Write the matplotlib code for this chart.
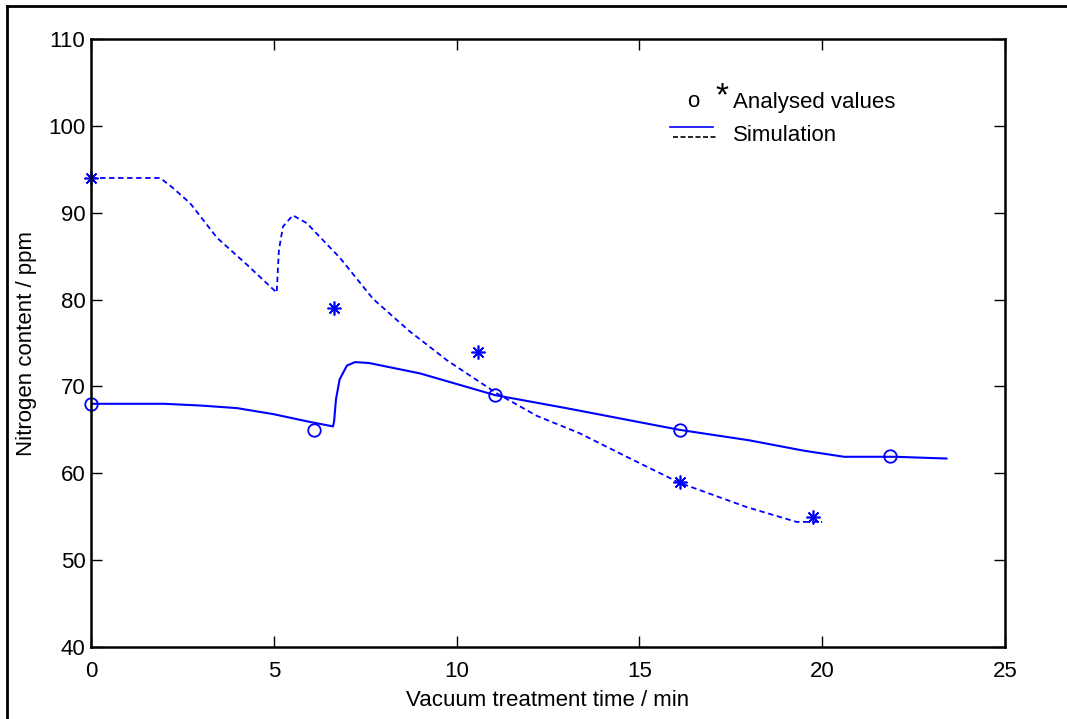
import numpy as np
import matplotlib
matplotlib.use("Agg")
import matplotlib.pyplot as plt
from matplotlib.lines import Line2D

plt.rcParams["font.family"] = ["Liberation Sans", "DejaVu Sans"]

# measured points
star_t = [0, 6.65, 10.58, 16.1, 19.75]
star_n = [94, 79, 74, 59, 55]
circ_t = [0, 6.1, 11.05, 16.1, 21.85]
circ_n = [68, 65, 69, 65, 62]

# simulation, solid line
sim_solid_t = [0, 2.0, 3.0, 4.0, 5.0, 6.0, 6.62, 6.65, 6.7, 6.8, 7.0, 7.22, 7.6,
               9.0, 11.05, 13.0, 16.1, 18.0, 19.5, 20.6, 22.0, 23.4]
sim_solid_n = [68, 68, 67.8, 67.5, 66.8, 65.9, 65.4, 66.0, 68.5, 70.8, 72.4, 72.8, 72.7,
               71.5, 69.0, 67.5, 65.0, 63.8, 62.6, 61.9, 61.9, 61.7]

# simulation, dashed line
sim_dash_t = [0, 1.89, 2.2, 2.71, 3.45, 4.27, 5.08, 5.1, 5.14, 5.25, 5.52, 5.9, 6.81,
              7.71, 8.7, 9.74, 11.1, 12.2, 13.37, 14.7, 16.1, 17.94, 19.3, 20.0]
sim_dash_n = [94, 94, 93.0, 91.1, 87.1, 84.0, 80.8, 82.5, 85.7, 88.4, 89.7, 88.8, 84.8,
              80.1, 76.4, 73.0, 69.2, 66.6, 64.6, 61.8, 58.9, 56.1, 54.4, 54.4]

blue = "#0000ff"
fs = 16

fig = plt.figure(figsize=(10.67, 7.19), dpi=100)
ax = fig.add_axes([91 / 1067, 1 - 647 / 719, (1005 - 91) / 1067, (647 - 39) / 719])

ax.plot(sim_solid_t, sim_solid_n, color=blue, lw=1.5)
ax.plot(sim_dash_t, sim_dash_n, color=blue, lw=1.3, ls=(0, (3, 2)))
ax.plot(star_t, star_n, ls="none", marker=(8, 2, 0), ms=10, mec=blue, mew=1.2, clip_on=False)
ax.plot(circ_t, circ_n, ls="none", marker="o", ms=9, mfc="none", mec=blue, mew=1.3, clip_on=False)

ax.set_xlim(0, 25)
ax.set_ylim(40, 110)
ax.set_xticks(range(0, 26, 5))
ax.set_yticks(range(40, 111, 10))
ax.tick_params(direction="in", length=8, width=1, labelsize=fs, top=True, right=True)
ax.tick_params(axis="x", pad=10)
ax.tick_params(axis="y", pad=4)
for s in ax.spines.values():
    s.set_linewidth(1.8)
ax.set_xlabel("Vacuum treatment time / min", fontsize=fs, labelpad=6)
ax.set_ylabel("Nitrogen content / ppm", fontsize=fs, labelpad=8)

# legend drawn by hand
ax.text(0.659, 0.897, "o", transform=ax.transAxes, fontsize=fs, va="center", ha="center")
ax.text(0.690, 0.905, "*", transform=ax.transAxes, fontsize=24, va="center", ha="center")
ax.text(0.702, 0.896, "Analysed values", transform=ax.transAxes, fontsize=fs, va="center")
ax.plot([0.633, 0.681], [0.855, 0.855], transform=ax.transAxes, color=blue, lw=1.2)
ax.plot([0.637, 0.685], [0.839, 0.839], transform=ax.transAxes, color="black", lw=1.2, ls=(0, (3, 1.5)))
ax.text(0.702, 0.842, "Simulation", transform=ax.transAxes, fontsize=fs, va="center")

# outer frame
fig.add_artist(Line2D([7 / 1067, 7 / 1067], [0, 1 - 6 / 719], color="black", lw=2, transform=fig.transFigure))
fig.add_artist(Line2D([7 / 1067, 1], [1 - 6 / 719, 1 - 6 / 719], color="black", lw=2, transform=fig.transFigure))

fig.savefig("out.png", dpi=100)
